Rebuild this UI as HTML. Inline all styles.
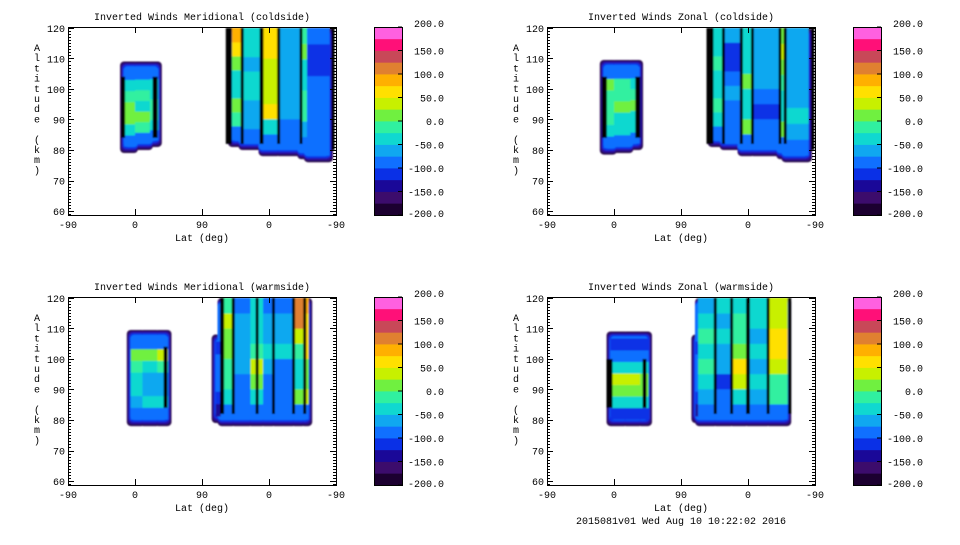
<!DOCTYPE html>
<html><head><meta charset="utf-8"><style>
body{margin:0;background:#fff;}
svg text{font-family:"Liberation Mono","DejaVu Sans Mono",monospace;font-size:10px;fill:#000;}
</style></head><body>
<svg id="fig" width="960" height="540" xmlns="http://www.w3.org/2000/svg">
<defs><filter id="soft" x="-5%" y="-5%" width="110%" height="110%"><feGaussianBlur stdDeviation="0.8"/></filter></defs>
</svg>
<script>
// colour levels (16 bands, -200..200 step 25)
const levels=[-200,-175,-150,-125,-100,-75,-50,-25,0,25,50,75,100,125,150,175,200];
const colors=["#1c0030","#3c0c6c","#1a0898","#0a30e6","#1070ff","#10a8f0","#10d8d0","#30f0a0","#70f040","#c8f000","#ffe000","#ffb000","#e08030","#c84858","#ff1078","#ff60e0"];
const cbLabels=["200.0","150.0","100.0","50.0","0.0","-50.0","-100.0","-150.0","-200.0"];
const cbValues=[200,150,100,50,0,-50,-100,-150,-200];
const xTickVals=[0,90,180,270,360];
const xTickLabels=["-90","0","90","0","-90"];
const yTickVals=[60,70,80,90,100,110,120];

// strips: lat-unit range, altitude range (outer edge), values bottom->top (interior)
const tlStrips=[
 {u:[70,90],a:[79,109],v:[-90,-40,0,10,-10,-40,-90]},
 {u:[90,110],a:[80,109],v:[-90,-20,0,-30,-20,-30,-90]},
 {u:[110,126],a:[81,109],v:[-90,-40,-10,-20,-30,-40,-90]},
 {u:[215,233],a:[81,120],v:[-90,-20,0,-40,-50,10,60,80]},
 {u:[233,260],a:[80,120],v:[-90,-75,-60,-50,-40,-60,-50,-50]},
 {u:[260,282],a:[78,120],v:[-90,-40,60,40,30,40,50,60]},
 {u:[282,312],a:[78,120],v:[-90,-80,-75,-70,-60,-75,-60,-75]},
 {u:[312,321],a:[77,120],v:[-90,-60,-20,-10,-30,-30,0,-10]},
 {u:[321,356],a:[76,120],v:[-100,-90,-80,-90,-100,-110,-110,-90]}];
const tlLines=[[74,4,84,104],[117,5,84,104],[216,6,82,120],[234,3,82,120],[260,4,82,120],[283,3,82,120],[313,3,82,120],[356,3,80,120]];

const trStrips=[
 {u:[71,90],a:[78.5,109.5],v:[-90,-40,-20,-10,-10,20,-90]},
 {u:[90,112],a:[79,109.5],v:[-90,-50,-30,0,-20,-10,-90]},
 {u:[112,129],a:[80,109.5],v:[-90,-50,-40,10,-20,-30,-90]},
 {u:[216,236],a:[81,120],v:[-90,-50,-20,-40,-40,-20,-30,-40]},
 {u:[236,260],a:[80,120],v:[-90,-80,-90,-70,-80,-120,-110,-60]},
 {u:[260,276],a:[78,120],v:[-90,0,-50,-30,10,-50,-40,-40]},
 {u:[276,312],a:[78,120],v:[-90,-80,-120,-80,-70,-60,-70,-70]},
 {u:[312,319],a:[77,120],v:[-90,20,-40,-30,-20,20,40,10]},
 {u:[319,356],a:[76,120],v:[-100,-70,-50,-60,-70,-70,-70,-60]}];
const trLines=[[77,5,84,104],[122,5,84,104],[219,7,82,120],[237,3,82,120],[261,3,82,120],[276,3,82,120],[313,3,82,120],[320,3,82,120],[357,3,80,120]];

const blStrips=[
 {u:[79,100],a:[78,109.5],v:[-90,-60,-30,-40,-20,20,-90]},
 {u:[100,120],a:[78,109.5],v:[-90,-50,-60,-60,-30,0,-90]},
 {u:[120,139],a:[78,109.5],v:[-90,-50,-60,-60,-20,40,-90]},
 {u:[193,205],a:[79,108],v:[-130,-110,-100,-100,-100,-110]},
 {u:[205,222],a:[78,120],v:[-90,-40,-10,-20,0,20,40,-10]},
 {u:[222,245],a:[78,120],v:[-90,-80,-80,-70,-60,-60,-75,-90]},
 {u:[245,262],a:[78,120],v:[-90,-40,0,30,-20,-40,-30,-40]},
 {u:[262,276],a:[78,120],v:[-90,-90,-90,-70,-40,-60,-70,-80]},
 {u:[276,303],a:[78,120],v:[-90,-90,-80,-80,-30,-60,-60,-80]},
 {u:[303,316],a:[78,120],v:[-90,20,-30,-30,-10,40,110,120]},
 {u:[316,328],a:[78,120],v:[-90,40,0,20,60,60,70,80]}];
const blLines=[[131,4,84,104],[207,4,82,120],[222,3,82,120],[254,3,82,120],[276,3,82,120],[303,3,82,120],[318,3,82,120]];

const brStrips=[
 {u:[80,105],a:[78,109],v:[-120,-40,10,30,-40,-90,-120]},
 {u:[105,125],a:[78,109],v:[-120,-30,20,40,-30,-80,-110]},
 {u:[125,141],a:[78,109],v:[-120,-40,10,20,-40,-90,-120]},
 {u:[194,203],a:[79,108],v:[-130,-110,-90,-90,-100,-120]},
 {u:[203,226],a:[78,120],v:[-100,-60,-40,-20,-30,-20,-40,-60]},
 {u:[226,248],a:[78,120],v:[-100,-100,-110,-70,-60,-50,-60,-40]},
 {u:[248,268],a:[78,120],v:[-90,-50,40,70,20,-10,-20,-30]},
 {u:[268,297],a:[78,120],v:[-90,-60,-50,-60,-40,-60,-40,-30]},
 {u:[297,328],a:[78,120],v:[-90,-20,-10,30,70,50,40,30]}];
const brLines=[[84,6,84,100],[131,4,84,100],[226,3,82,120],[248,3,82,120],[270,4,82,120],[297,3,82,120],[326,3,82,120]];

const NS="http://www.w3.org/2000/svg";
const svg=document.getElementById('fig');
let clipId=0;
function mk(tag,attrs,parent){const e=document.createElementNS(NS,tag);for(const k in attrs)e.setAttribute(k,attrs[k]);(parent||svg).appendChild(e);return e;}
function colorOf(v){let i=Math.floor((v+200)/25);i=Math.max(0,Math.min(15,i));return colors[i];}

function panel(px,py,title,strips,lines,showFooter){
  const W=268,H=188;
  const xs=u=>px+u/360*W;
  const ys=a=>py+(120.3-a)/(120.3-58.7)*H;
  const g=mk('g',{});
  
  
  const t=mk('text',{x:px+W/2,y:py-7,'text-anchor':'middle'},g);t.textContent=title;
  
  
  const cid='clip'+(clipId++);
  const cp=mk('clipPath',{id:cid},g);mk('rect',{x:px,y:py,width:W,height:H},cp);
  const outer=mk('g',{'clip-path':'url(#'+cid+')'},g);
  const plot=mk('g',{filter:'url(#soft)'},outer);
  
  
  // blob-edge flags: a strip is at blob's left/right edge if no neighbour touches it
  const leftEdge=strips.map(s=>!strips.some(o=>Math.abs(o.u[1]-s.u[0])<0.5));
  const rightEdge=strips.map(s=>!strips.some(o=>Math.abs(o.u[0]-s.u[1])<0.5));
  const rings=[[0,'#2a0850'],[2,'#2a10a0'],[4,'#0a30e6'],[6,'#1070ff']];
  rings.forEach(rg=>{
    strips.forEach((s,k)=>{
      const x0=xs(s.u[0])+(leftEdge[k]?rg[0]*0.6:-3),x1=xs(s.u[1])+(rightEdge[k]?-rg[0]*0.6:3);
      const y0=ys(s.a[1])+rg[0]*0.8,y1=ys(s.a[0])-rg[0];
      mk('rect',{x:x0,y:y0,width:Math.max(0,x1-x0),height:Math.max(0,y1-y0),rx:4,fill:rg[1]},plot);
    });
  });
  strips.forEach((s,k)=>{
    const top=ys(s.a[1])+(s.a[1]>=119?0:7),bot=ys(s.a[0])-7;
    const x0=xs(s.u[0])+(leftEdge[k]?4:0),x1=xs(s.u[1])-(rightEdge[k]?4:0);
    const n=s.v.length,dh=(bot-top)/n;
    s.v.forEach((v,i)=>{
      const yb=bot-i*dh;
      const r=mk('rect',{x:x0,y:yb-dh,width:x1-x0+0.5,height:dh+0.5,fill:colorOf(v)},plot);
      
      
    });
  });
  lines.forEach(l=>{
    const r=mk('rect',{x:xs(l[0])-l[1]/2,y:ys(l[3]),width:l[1],height:ys(l[2])-ys(l[3]),fill:'#000'},plot);
    
    
  });
  const f=mk('rect',{x:px+0.5,y:py+0.5,width:W,height:H,fill:'none',stroke:'#000','stroke-width':1},g);
  
  
  for(let a=59;a<=120;a++){
    const y=Math.round(ys(a))+0.5;const big=a%10==0;
    mk('line',{x1:px,x2:px+(big?6:3),y1:y,y2:y,stroke:'#000'},g);
    mk('line',{x1:px+W,x2:px+W-(big?6:3),y1:y,y2:y,stroke:'#000'},g);
  }
  yTickVals.forEach(a=>{const tt=mk('text',{x:px-3,y:ys(a)+4,'text-anchor':'end'},g);tt.textContent=a;
    });
  xTickVals.forEach((u,i)=>{
    const x=Math.round(xs(u))+0.5;
    mk('line',{x1:x,x2:x,y1:py+H,y2:py+H-6,stroke:'#000'},g);
    mk('line',{x1:x,x2:x,y1:py,y2:py+6,stroke:'#000'},g);
    const tt=mk('text',{x:xs(u),y:py+H+13,'text-anchor':'middle'},g);tt.textContent=xTickLabels[i];
    
  });
  const xt=mk('text',{x:px+W/2,y:py+H+26,'text-anchor':'middle'},g);xt.textContent='Lat (deg)';
  
  const yt=mk('text',{x:px-31,y:py+24,'text-anchor':'middle'},g);
  
  'Altitude (km)'.split('').forEach((c,i)=>{const sp=mk('tspan',{x:px-31,y:py+24+i*10.2},yt);sp.textContent=c===' '?'\u00a0':c;});
  const cx=px+306,cw=28;
  const cb=mk('g',{},g);
  
  const cy=v=>py+(200-v)/400*H;
  colors.forEach((c,i)=>{mk('rect',{x:cx,y:cy(levels[i+1]),width:cw,height:cy(levels[i])-cy(levels[i+1])+0.4,fill:c},cb);});
  mk('rect',{x:cx+0.5,y:py+0.5,width:cw,height:H,fill:'none',stroke:'#000'},cb);
  cbValues.forEach((v,i)=>{
    mk('line',{x1:cx+cw-4,x2:cx+cw,y1:cy(v),y2:cy(v),stroke:'#000'},cb);
    const tt=mk('text',{x:cx+70,y:cy(v)+(i==0?0:(i==8?2:4)),'text-anchor':'end'},cb);tt.textContent=cbLabels[i];
    
  });
  if(showFooter){const ft=mk('text',{x:px+W/2,y:py+H+39,'text-anchor':'middle'},g);ft.textContent='2015081v01 Wed Aug 10 10:22:02 2016';
    }
}
panel(68,27,'Inverted Winds Meridional (coldside)',tlStrips,tlLines,false);
panel(547,27,'Inverted Winds Zonal (coldside)',trStrips,trLines,false);
panel(68,297,'Inverted Winds Meridional (warmside)',blStrips,blLines,false);
panel(547,297,'Inverted Winds Zonal (warmside)',brStrips,brLines,true);
</script>
</body></html>
